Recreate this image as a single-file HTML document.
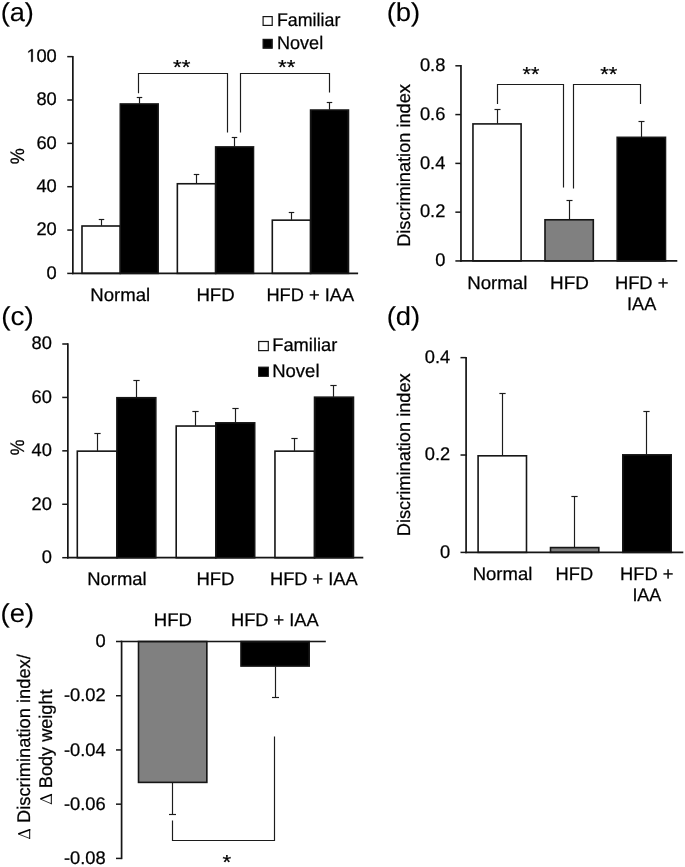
<!DOCTYPE html>
<html><head><meta charset="utf-8"><title>Figure</title>
<style>
html,body{margin:0;padding:0;background:#fff;}
svg{display:block;font-family:"Liberation Sans",sans-serif;will-change:transform;transform:translateZ(0);}
text{text-rendering:geometricPrecision;}
</style></head>
<body>
<svg width="685" height="867" viewBox="0 0 685 867">
<defs><filter id="soft" x="0" y="0" width="685" height="867" filterUnits="userSpaceOnUse"><feGaussianBlur stdDeviation="0.42"/></filter></defs>
<rect x="0" y="0" width="685" height="867" fill="#fff"/>
<g filter="url(#soft)">
<line x1="101.50" y1="225.71" x2="101.50" y2="219.50" stroke="#1a1a1a" stroke-width="1.15"/>
<line x1="98.75" y1="219.50" x2="104.25" y2="219.50" stroke="#1a1a1a" stroke-width="1.15"/>
<rect x="82.00" y="226.01" width="38.30" height="47.38" fill="#fff" stroke="#141414" stroke-width="1.6"/>
<line x1="139.50" y1="103.68" x2="139.50" y2="97.50" stroke="#1a1a1a" stroke-width="1.15"/>
<line x1="136.75" y1="97.50" x2="142.25" y2="97.50" stroke="#1a1a1a" stroke-width="1.15"/>
<rect x="120.30" y="103.98" width="37.85" height="169.42" fill="#000" stroke="#141414" stroke-width="1.6"/>
<line x1="196.50" y1="183.45" x2="196.50" y2="174.50" stroke="#1a1a1a" stroke-width="1.15"/>
<line x1="193.75" y1="174.50" x2="199.25" y2="174.50" stroke="#1a1a1a" stroke-width="1.15"/>
<rect x="177.35" y="183.75" width="38.30" height="89.65" fill="#fff" stroke="#141414" stroke-width="1.6"/>
<line x1="234.50" y1="146.60" x2="234.50" y2="137.50" stroke="#1a1a1a" stroke-width="1.15"/>
<line x1="231.75" y1="137.50" x2="237.25" y2="137.50" stroke="#1a1a1a" stroke-width="1.15"/>
<rect x="215.65" y="146.90" width="37.85" height="126.50" fill="#000" stroke="#141414" stroke-width="1.6"/>
<line x1="291.50" y1="219.86" x2="291.50" y2="212.50" stroke="#1a1a1a" stroke-width="1.15"/>
<line x1="288.75" y1="212.50" x2="294.25" y2="212.50" stroke="#1a1a1a" stroke-width="1.15"/>
<rect x="272.30" y="220.16" width="38.30" height="53.24" fill="#fff" stroke="#141414" stroke-width="1.6"/>
<line x1="329.50" y1="109.75" x2="329.50" y2="102.50" stroke="#1a1a1a" stroke-width="1.15"/>
<line x1="326.75" y1="102.50" x2="332.25" y2="102.50" stroke="#1a1a1a" stroke-width="1.15"/>
<rect x="310.60" y="110.05" width="37.85" height="163.35" fill="#000" stroke="#141414" stroke-width="1.6"/>
<line x1="72.85" y1="55.90" x2="72.85" y2="274.15" stroke="#141414" stroke-width="1.7"/>
<line x1="72.10" y1="273.40" x2="358.10" y2="273.40" stroke="#141414" stroke-width="1.7"/>
<line x1="67.25" y1="273.40" x2="72.85" y2="273.40" stroke="#141414" stroke-width="1.5"/>
<text x="46.57" y="278.60" font-size="18.3" fill="#000" stroke="#000" stroke-width="0.25">0</text>
<line x1="67.25" y1="230.05" x2="72.85" y2="230.05" stroke="#141414" stroke-width="1.5"/>
<text x="36.39" y="235.25" font-size="18.3" fill="#000" stroke="#000" stroke-width="0.25">20</text>
<line x1="67.25" y1="186.70" x2="72.85" y2="186.70" stroke="#141414" stroke-width="1.5"/>
<text x="36.39" y="191.90" font-size="18.3" fill="#000" stroke="#000" stroke-width="0.25">40</text>
<line x1="67.25" y1="143.35" x2="72.85" y2="143.35" stroke="#141414" stroke-width="1.5"/>
<text x="36.39" y="148.55" font-size="18.3" fill="#000" stroke="#000" stroke-width="0.25">60</text>
<line x1="67.25" y1="100.00" x2="72.85" y2="100.00" stroke="#141414" stroke-width="1.5"/>
<text x="36.39" y="105.20" font-size="18.3" fill="#000" stroke="#000" stroke-width="0.25">80</text>
<line x1="67.25" y1="56.65" x2="72.85" y2="56.65" stroke="#141414" stroke-width="1.5"/>
<path d="M31.17,61.85 L31.17,50.80 L28.33,52.83 L28.33,51.31 L31.30,49.26 L32.79,49.26 L32.79,61.85Z" fill="#000" stroke="#000" stroke-width="0.25" stroke-linejoin="miter"/>
<text x="36.39" y="61.85" font-size="18.3" fill="#000" stroke="#000" stroke-width="0.25">00</text>
<text transform="translate(24.00,164.13) rotate(-90) scale(0.9256,1)" font-size="19.5" fill="#000" stroke="#000" stroke-width="0.25">%</text>
<text transform="translate(90.31,300.70) scale(1.0165,1)" font-size="18.3" fill="#000" stroke="#000" stroke-width="0.25">Normal</text>
<text transform="translate(196.41,300.70) scale(1.0193,1)" font-size="18.3" fill="#000" stroke="#000" stroke-width="0.25">HFD</text>
<text transform="translate(266.44,300.70) scale(0.9969,1)" font-size="18.3" fill="#000" stroke="#000" stroke-width="0.25">HFD + IAA</text>
<rect x="263.10" y="16.60" width="9.10" height="8.80" fill="#fff" stroke="#141414" stroke-width="1.2"/>
<rect x="263.10" y="39.40" width="9.10" height="8.80" fill="#000" stroke="#141414" stroke-width="1.2"/>
<text transform="translate(276.97,26.00) scale(0.9744,1)" font-size="18.3" fill="#000" stroke="#000" stroke-width="0.25">Familiar</text>
<text transform="translate(276.95,48.80) scale(0.9886,1)" font-size="18.3" fill="#000" stroke="#000" stroke-width="0.25">Novel</text>
<polyline points="138.50,93.30 138.50,73.50 227.50,73.50 227.50,132.60" fill="none" stroke="#1a1a1a" stroke-width="1.15"/>
<polyline points="240.50,132.60 240.50,73.50 329.50,73.50 329.50,92.50" fill="none" stroke="#1a1a1a" stroke-width="1.15"/>
<text transform="translate(173.07,74.30) scale(1.0969,1)" font-size="20.3" fill="#000" stroke="#000" stroke-width="0.25">**</text>
<text transform="translate(278.07,74.30) scale(1.0969,1)" font-size="20.3" fill="#000" stroke="#000" stroke-width="0.25">**</text>
<line x1="497.50" y1="123.61" x2="497.50" y2="109.50" stroke="#1a1a1a" stroke-width="1.15"/>
<line x1="494.50" y1="109.50" x2="500.50" y2="109.50" stroke="#1a1a1a" stroke-width="1.15"/>
<rect x="472.95" y="123.91" width="48.15" height="137.04" fill="#fff" stroke="#141414" stroke-width="1.6"/>
<line x1="569.50" y1="219.48" x2="569.50" y2="200.50" stroke="#1a1a1a" stroke-width="1.15"/>
<line x1="566.50" y1="200.50" x2="572.50" y2="200.50" stroke="#1a1a1a" stroke-width="1.15"/>
<rect x="545.00" y="219.78" width="48.30" height="41.17" fill="#808080" stroke="#141414" stroke-width="1.6"/>
<line x1="641.50" y1="137.03" x2="641.50" y2="121.50" stroke="#1a1a1a" stroke-width="1.15"/>
<line x1="638.50" y1="121.50" x2="644.50" y2="121.50" stroke="#1a1a1a" stroke-width="1.15"/>
<rect x="617.20" y="137.33" width="48.30" height="123.62" fill="#000" stroke="#141414" stroke-width="1.6"/>
<line x1="460.95" y1="65.05" x2="460.95" y2="261.70" stroke="#141414" stroke-width="1.7"/>
<line x1="460.20" y1="260.95" x2="677.30" y2="260.95" stroke="#141414" stroke-width="1.7"/>
<line x1="455.35" y1="260.95" x2="460.95" y2="260.95" stroke="#141414" stroke-width="1.5"/>
<text x="435.22" y="266.15" font-size="18.3" fill="#000" stroke="#000" stroke-width="0.25">0</text>
<line x1="455.35" y1="212.16" x2="460.95" y2="212.16" stroke="#141414" stroke-width="1.5"/>
<text x="419.96" y="217.36" font-size="18.3" fill="#000" stroke="#000" stroke-width="0.25">0.2</text>
<line x1="455.35" y1="163.38" x2="460.95" y2="163.38" stroke="#141414" stroke-width="1.5"/>
<text x="419.96" y="168.57" font-size="18.3" fill="#000" stroke="#000" stroke-width="0.25">0.4</text>
<line x1="455.35" y1="114.59" x2="460.95" y2="114.59" stroke="#141414" stroke-width="1.5"/>
<text x="419.96" y="119.79" font-size="18.3" fill="#000" stroke="#000" stroke-width="0.25">0.6</text>
<line x1="455.35" y1="65.80" x2="460.95" y2="65.80" stroke="#141414" stroke-width="1.5"/>
<text x="419.96" y="71.00" font-size="18.3" fill="#000" stroke="#000" stroke-width="0.25">0.8</text>
<text transform="translate(409.60,246.86) rotate(-90) scale(0.9954,1)" font-size="18.3" fill="#000" stroke="#000" stroke-width="0.25">Discrimination index</text>
<text transform="translate(467.20,288.70) scale(1.0218,1)" font-size="18.3" fill="#000" stroke="#000" stroke-width="0.25">Normal</text>
<text transform="translate(550.09,288.70) scale(1.0334,1)" font-size="18.3" fill="#000" stroke="#000" stroke-width="0.25">HFD</text>
<text transform="translate(614.93,288.70) scale(1.0028,1)" font-size="18.3" fill="#000" stroke="#000" stroke-width="0.25">HFD +</text>
<text transform="translate(627.07,310.00) scale(0.9922,1)" font-size="18.3" fill="#000" stroke="#000" stroke-width="0.25">IAA</text>
<polyline points="497.50,104.00 497.50,84.50 563.50,84.50 563.50,187.60" fill="none" stroke="#1a1a1a" stroke-width="1.15"/>
<polyline points="573.50,188.40 573.50,84.50 640.50,84.50 640.50,104.00" fill="none" stroke="#1a1a1a" stroke-width="1.15"/>
<text transform="translate(522.48,81.30) scale(1.0640,1)" font-size="20.3" fill="#000" stroke="#000" stroke-width="0.25">**</text>
<text transform="translate(600.17,81.30) scale(1.0837,1)" font-size="20.3" fill="#000" stroke="#000" stroke-width="0.25">**</text>
<line x1="97.50" y1="450.85" x2="97.50" y2="433.50" stroke="#1a1a1a" stroke-width="1.15"/>
<line x1="94.35" y1="433.50" x2="100.65" y2="433.50" stroke="#1a1a1a" stroke-width="1.15"/>
<rect x="77.30" y="451.15" width="39.60" height="106.55" fill="#fff" stroke="#141414" stroke-width="1.6"/>
<line x1="136.50" y1="397.43" x2="136.50" y2="380.50" stroke="#1a1a1a" stroke-width="1.15"/>
<line x1="133.35" y1="380.50" x2="139.65" y2="380.50" stroke="#1a1a1a" stroke-width="1.15"/>
<rect x="116.90" y="397.73" width="38.90" height="159.98" fill="#000" stroke="#141414" stroke-width="1.6"/>
<line x1="195.50" y1="425.74" x2="195.50" y2="411.50" stroke="#1a1a1a" stroke-width="1.15"/>
<line x1="192.35" y1="411.50" x2="198.65" y2="411.50" stroke="#1a1a1a" stroke-width="1.15"/>
<rect x="176.20" y="426.04" width="39.60" height="131.66" fill="#fff" stroke="#141414" stroke-width="1.6"/>
<line x1="235.50" y1="422.53" x2="235.50" y2="408.50" stroke="#1a1a1a" stroke-width="1.15"/>
<line x1="232.35" y1="408.50" x2="238.65" y2="408.50" stroke="#1a1a1a" stroke-width="1.15"/>
<rect x="215.80" y="422.83" width="38.90" height="134.87" fill="#000" stroke="#141414" stroke-width="1.6"/>
<line x1="294.50" y1="450.85" x2="294.50" y2="438.50" stroke="#1a1a1a" stroke-width="1.15"/>
<line x1="291.35" y1="438.50" x2="297.65" y2="438.50" stroke="#1a1a1a" stroke-width="1.15"/>
<rect x="274.95" y="451.15" width="39.60" height="106.55" fill="#fff" stroke="#141414" stroke-width="1.6"/>
<line x1="333.50" y1="396.89" x2="333.50" y2="385.50" stroke="#1a1a1a" stroke-width="1.15"/>
<line x1="330.35" y1="385.50" x2="336.65" y2="385.50" stroke="#1a1a1a" stroke-width="1.15"/>
<rect x="314.55" y="397.19" width="38.90" height="160.51" fill="#000" stroke="#141414" stroke-width="1.6"/>
<line x1="67.85" y1="343.25" x2="67.85" y2="558.45" stroke="#141414" stroke-width="1.7"/>
<line x1="67.10" y1="557.70" x2="363.30" y2="557.70" stroke="#141414" stroke-width="1.7"/>
<line x1="62.25" y1="557.70" x2="67.85" y2="557.70" stroke="#141414" stroke-width="1.5"/>
<text x="41.67" y="563.10" font-size="18.3" fill="#000" stroke="#000" stroke-width="0.25">0</text>
<line x1="62.25" y1="504.28" x2="67.85" y2="504.28" stroke="#141414" stroke-width="1.5"/>
<text x="31.49" y="509.68" font-size="18.3" fill="#000" stroke="#000" stroke-width="0.25">20</text>
<line x1="62.25" y1="450.85" x2="67.85" y2="450.85" stroke="#141414" stroke-width="1.5"/>
<text x="31.49" y="456.25" font-size="18.3" fill="#000" stroke="#000" stroke-width="0.25">40</text>
<line x1="62.25" y1="397.43" x2="67.85" y2="397.43" stroke="#141414" stroke-width="1.5"/>
<text x="31.49" y="402.82" font-size="18.3" fill="#000" stroke="#000" stroke-width="0.25">60</text>
<line x1="62.25" y1="344.00" x2="67.85" y2="344.00" stroke="#141414" stroke-width="1.5"/>
<text x="31.49" y="349.40" font-size="18.3" fill="#000" stroke="#000" stroke-width="0.25">80</text>
<text transform="translate(24.00,455.32) rotate(-90) scale(0.9068,1)" font-size="19.5" fill="#000" stroke="#000" stroke-width="0.25">%</text>
<text transform="translate(87.32,584.70) scale(1.0076,1)" font-size="18.3" fill="#000" stroke="#000" stroke-width="0.25">Normal</text>
<text transform="translate(196.42,584.70) scale(1.0136,1)" font-size="18.3" fill="#000" stroke="#000" stroke-width="0.25">HFD</text>
<text transform="translate(269.94,584.70) scale(0.9992,1)" font-size="18.3" fill="#000" stroke="#000" stroke-width="0.25">HFD + IAA</text>
<rect x="258.70" y="341.50" width="9.60" height="9.10" fill="#fff" stroke="#141414" stroke-width="1.2"/>
<rect x="258.70" y="367.20" width="9.60" height="9.10" fill="#000" stroke="#141414" stroke-width="1.2"/>
<text transform="translate(272.23,351.30) scale(1.0013,1)" font-size="18.3" fill="#000" stroke="#000" stroke-width="0.25">Familiar</text>
<text transform="translate(272.22,376.90) scale(1.0113,1)" font-size="18.3" fill="#000" stroke="#000" stroke-width="0.25">Novel</text>
<line x1="502.50" y1="455.51" x2="502.50" y2="393.50" stroke="#1a1a1a" stroke-width="1.15"/>
<line x1="499.35" y1="393.50" x2="505.65" y2="393.50" stroke="#1a1a1a" stroke-width="1.15"/>
<rect x="478.10" y="455.81" width="48.40" height="96.59" fill="#fff" stroke="#141414" stroke-width="1.6"/>
<line x1="574.50" y1="547.29" x2="574.50" y2="496.50" stroke="#1a1a1a" stroke-width="1.15"/>
<line x1="571.35" y1="496.50" x2="577.65" y2="496.50" stroke="#1a1a1a" stroke-width="1.15"/>
<rect x="550.50" y="547.59" width="48.30" height="4.81" fill="#808080" stroke="#141414" stroke-width="1.6"/>
<line x1="646.50" y1="454.54" x2="646.50" y2="411.50" stroke="#1a1a1a" stroke-width="1.15"/>
<line x1="643.35" y1="411.50" x2="649.65" y2="411.50" stroke="#1a1a1a" stroke-width="1.15"/>
<rect x="622.80" y="454.84" width="48.40" height="97.56" fill="#000" stroke="#141414" stroke-width="1.6"/>
<line x1="466.10" y1="356.90" x2="466.10" y2="553.15" stroke="#141414" stroke-width="1.7"/>
<line x1="465.35" y1="552.40" x2="683.30" y2="552.40" stroke="#141414" stroke-width="1.7"/>
<line x1="460.50" y1="552.40" x2="466.10" y2="552.40" stroke="#141414" stroke-width="1.5"/>
<text x="440.12" y="557.60" font-size="18.3" fill="#000" stroke="#000" stroke-width="0.25">0</text>
<line x1="460.50" y1="455.02" x2="466.10" y2="455.02" stroke="#141414" stroke-width="1.5"/>
<text x="424.86" y="460.22" font-size="18.3" fill="#000" stroke="#000" stroke-width="0.25">0.2</text>
<line x1="460.50" y1="357.65" x2="466.10" y2="357.65" stroke="#141414" stroke-width="1.5"/>
<text x="424.86" y="362.85" font-size="18.3" fill="#000" stroke="#000" stroke-width="0.25">0.4</text>
<text transform="translate(409.60,536.16) rotate(-90) scale(0.9954,1)" font-size="18.3" fill="#000" stroke="#000" stroke-width="0.25">Discrimination index</text>
<text transform="translate(472.72,579.80) scale(1.0112,1)" font-size="18.3" fill="#000" stroke="#000" stroke-width="0.25">Normal</text>
<text transform="translate(555.53,579.80) scale(1.0023,1)" font-size="18.3" fill="#000" stroke="#000" stroke-width="0.25">HFD</text>
<text transform="translate(620.03,579.80) scale(1.0008,1)" font-size="18.3" fill="#000" stroke="#000" stroke-width="0.25">HFD +</text>
<text transform="translate(632.38,601.00) scale(0.9814,1)" font-size="18.3" fill="#000" stroke="#000" stroke-width="0.25">IAA</text>
<line x1="172.50" y1="782.48" x2="172.50" y2="814.50" stroke="#1a1a1a" stroke-width="1.15"/>
<line x1="169.00" y1="814.50" x2="176.00" y2="814.50" stroke="#1a1a1a" stroke-width="1.15"/>
<rect x="138.50" y="641.50" width="68.35" height="140.88" fill="#808080" stroke="#141414" stroke-width="1.6"/>
<line x1="275.50" y1="666.44" x2="275.50" y2="697.50" stroke="#1a1a1a" stroke-width="1.15"/>
<line x1="272.00" y1="697.50" x2="279.00" y2="697.50" stroke="#1a1a1a" stroke-width="1.15"/>
<rect x="241.00" y="641.50" width="68.20" height="24.54" fill="#000" stroke="#141414" stroke-width="1.6"/>
<line x1="121.60" y1="640.75" x2="121.60" y2="859.15" stroke="#141414" stroke-width="1.7"/>
<line x1="120.85" y1="641.50" x2="325.80" y2="641.50" stroke="#141414" stroke-width="1.7"/>
<line x1="116.00" y1="641.50" x2="121.60" y2="641.50" stroke="#141414" stroke-width="1.5"/>
<text x="95.52" y="647.10" font-size="18.3" fill="#000" stroke="#000" stroke-width="0.25">0</text>
<line x1="116.00" y1="695.73" x2="121.60" y2="695.73" stroke="#141414" stroke-width="1.5"/>
<text x="63.99" y="701.33" font-size="18.3" fill="#000" stroke="#000" stroke-width="0.25">-0.02</text>
<line x1="116.00" y1="749.95" x2="121.60" y2="749.95" stroke="#141414" stroke-width="1.5"/>
<text x="63.99" y="755.55" font-size="18.3" fill="#000" stroke="#000" stroke-width="0.25">-0.04</text>
<line x1="116.00" y1="804.17" x2="121.60" y2="804.17" stroke="#141414" stroke-width="1.5"/>
<text x="63.99" y="809.77" font-size="18.3" fill="#000" stroke="#000" stroke-width="0.25">-0.06</text>
<line x1="116.00" y1="858.40" x2="121.60" y2="858.40" stroke="#141414" stroke-width="1.5"/>
<text x="63.99" y="864.00" font-size="18.3" fill="#000" stroke="#000" stroke-width="0.25">-0.08</text>
<text transform="translate(153.81,625.70) scale(1.0165,1)" font-size="18.3" fill="#000" stroke="#000" stroke-width="0.25">HFD</text>
<text transform="translate(230.94,625.70) scale(0.9992,1)" font-size="18.3" fill="#000" stroke="#000" stroke-width="0.25">HFD + IAA</text>
<path d="M18.80,833.70 L29.70,829.85" stroke="#000" stroke-width="1.6" fill="none" stroke-linecap="round"/>
<path d="M18.80,834.20 L29.70,838.45" stroke="#000" stroke-width="0.8" fill="none" stroke-linecap="round"/>
<path d="M29.70,829.60 L29.70,838.45" stroke="#000" stroke-width="1.0" fill="none" stroke-linecap="round"/>
<text transform="translate(29.80,822.97) rotate(-90) scale(1.0009,1)" font-size="18.3" fill="#000" stroke="#000" stroke-width="0.25">Discrimination index/</text>
<path d="M40.90,798.75 L51.30,794.65" stroke="#000" stroke-width="1.6" fill="none" stroke-linecap="round"/>
<path d="M40.90,799.25 L51.30,803.75" stroke="#000" stroke-width="0.8" fill="none" stroke-linecap="round"/>
<path d="M51.30,794.40 L51.30,803.75" stroke="#000" stroke-width="1.0" fill="none" stroke-linecap="round"/>
<text transform="translate(51.60,788.15) rotate(-90) scale(0.9909,1)" font-size="18.3" fill="#000" stroke="#000" stroke-width="0.25">Body weight</text>
<polyline points="172.50,820.50 172.50,840.50 274.50,840.50 274.50,736.60" fill="none" stroke="#1a1a1a" stroke-width="1.15"/>
<text transform="translate(222.47,868.60) scale(1.0947,1)" font-size="20.3" fill="#000" stroke="#000" stroke-width="0.25">*</text>
<text transform="translate(0.67,21.30) scale(1.0455,1)" font-size="26.0" fill="#000" stroke="#000" stroke-width="0.12">(a)</text>
<text transform="translate(386.65,21.20) scale(1.0559,1)" font-size="26.0" fill="#000" stroke="#000" stroke-width="0.12">(b)</text>
<text transform="translate(1.33,325.10) scale(1.0674,1)" font-size="26.0" fill="#000" stroke="#000" stroke-width="0.12">(c)</text>
<text transform="translate(386.65,325.10) scale(1.0559,1)" font-size="26.0" fill="#000" stroke="#000" stroke-width="0.12">(d)</text>
<text transform="translate(0.55,621.90) scale(1.0559,1)" font-size="26.0" fill="#000" stroke="#000" stroke-width="0.12">(e)</text>
</g>
</svg>
</body></html>
